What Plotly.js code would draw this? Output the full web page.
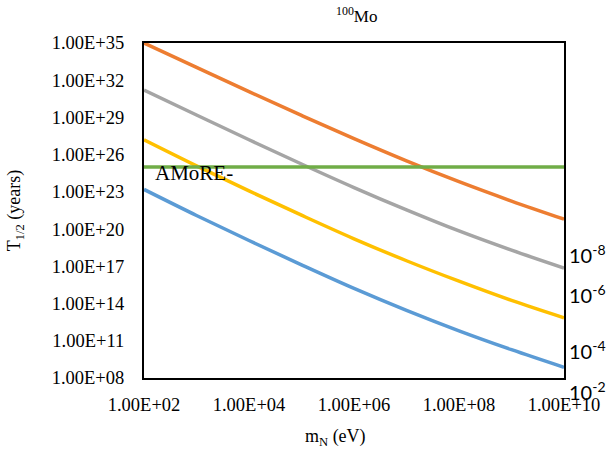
<!DOCTYPE html>
<html>
<head>
<meta charset="utf-8">
<script src="https://cdn.plot.ly/plotly-3.0.1.min.js"></script>
<style>
  html, body { margin: 0; padding: 0; background: #fff; }
  #chart { width: 607px; height: 455px; }
</style>
</head>
<body>
<div id="chart"></div>
<script>
// Data
const massN = [1e2, 1e3, 1e4, 1e5, 1e6, 1e7, 1e8, 1e9, 1e10]; // m_N (eV)
const halfLifeOrange = [1.0e35, 1.07e33, 1.20e31, 1.45e29, 1.95e27, 3.16e25, 6.61e23, 1.82e22, 6.31e20];
const halfLifeGray   = [1.58e31, 1.58e29, 1.58e27, 1.78e25, 2.24e23, 3.55e21, 7.08e19, 2.0e18, 7.24e16];
const halfLifeYellow = [1.58e27, 1.26e25, 1.20e23, 1.32e21, 1.66e19, 2.82e17, 6.31e15, 1.78e14, 7.08e12];
const halfLifeBlue   = [1.58e23, 1.26e21, 1.20e19, 1.32e17, 1.66e15, 2.82e13, 6.31e11, 1.91e10, 7.24e8];
const amoreMass = [1e2, 1e10];
const amoreLimit = [1e25, 1e25];
const amoreLabel = 'AMoRE-';
const mixingLabels = ['10<sup>-8</sup>', '10<sup>-6</sup>', '10<sup>-4</sup>', '10<sup>-2</sup>'];
const xTickVals = [1e2, 1e4, 1e6, 1e8, 1e10];
const xTickText = ['1.00E+02', '1.00E+04', '1.00E+06', '1.00E+08', '1.00E+10'];
const yTickVals = [1e8, 1e11, 1e14, 1e17, 1e20, 1e23, 1e26, 1e29, 1e32, 1e35];
const yTickText = ['1.00E+08', '1.00E+11', '1.00E+14', '1.00E+17', '1.00E+20', '1.00E+23', '1.00E+26', '1.00E+29', '1.00E+32', '1.00E+35'];

const serif = 'Liberation Serif, Times New Roman, serif';
const lw = 3.5;
function curve(y, color) {
  return { x: massN, y: y, type: 'scatter', mode: 'lines',
           line: { color: color, width: lw, shape: 'spline', smoothing: 1 },
           showlegend: false, hoverinfo: 'skip' };
}
const traces = [
  curve(halfLifeBlue, '#5B9BD5'),
  curve(halfLifeOrange, '#ED7D31'),
  curve(halfLifeGray, '#A5A5A5'),
  curve(halfLifeYellow, '#FFC000'),
  { x: amoreMass, y: amoreLimit, type: 'scatter', mode: 'lines',
    line: { color: '#70AD47', width: lw }, showlegend: false, hoverinfo: 'skip' }
];

const mixY = [0.370, 0.251, 0.0836, -0.039];
const annotations = mixingLabels.map((t, i) => ({
  text: t, xref: 'paper', yref: 'paper', x: 1.006, y: mixY[i],
  xanchor: 'left', yanchor: 'middle', showarrow: false,
  font: { family: 'Lato, Open Sans, sans-serif', size: 20, color: '#000' }
}));
annotations.push({
  text: amoreLabel, xref: 'paper', yref: 'paper', x: 0.0214, y: 0.613,
  xanchor: 'left', yanchor: 'middle', showarrow: false,
  font: { family: serif, size: 21, color: '#000' }
});
annotations.push({
  text: '<sup>100</sup>Mo', xref: 'paper', yref: 'paper', x: 0.505, y: 1.084,
  xanchor: 'center', yanchor: 'middle', showarrow: false,
  font: { family: serif, size: 17, color: '#000' }
});
annotations.push({
  text: 'm<sub>N</sub> (eV)', xref: 'paper', yref: 'paper', x: 0.457, y: -0.179,
  xanchor: 'center', yanchor: 'middle', showarrow: false,
  font: { family: serif, size: 18, color: '#000' }
});

const layout = {
  width: 607, height: 455,
  margin: { l: 144, r: 43, t: 43, b: 77 },
  paper_bgcolor: '#fff', plot_bgcolor: '#fff',
  showlegend: false,
  xaxis: {
    type: 'log', range: [2, 10], tickmode: 'array', tickvals: xTickVals, ticktext: xTickText,
    showgrid: false, zeroline: false, showline: true, mirror: true, linecolor: '#000', linewidth: 2,
    ticks: '', ticklabelstandoff: 9,
    tickfont: { family: serif, size: 18.5, color: '#000' }
  },
  yaxis: {
    type: 'log', range: [8, 35], tickmode: 'array', tickvals: yTickVals, ticktext: yTickText,
    showgrid: false, zeroline: false, showline: true, mirror: true, linecolor: '#000', linewidth: 2,
    ticks: '', ticklabelstandoff: 14,
    tickfont: { family: serif, size: 18.5, color: '#000' },
    title: { text: 'T<sub>1/2</sub> (years)', font: { family: serif, size: 18, color: '#000' }, standoff: 26 }
  },
  annotations: annotations
};

Plotly.newPlot('chart', traces, layout, { displayModeBar: false, staticPlot: true });
</script>
</body>
</html>
